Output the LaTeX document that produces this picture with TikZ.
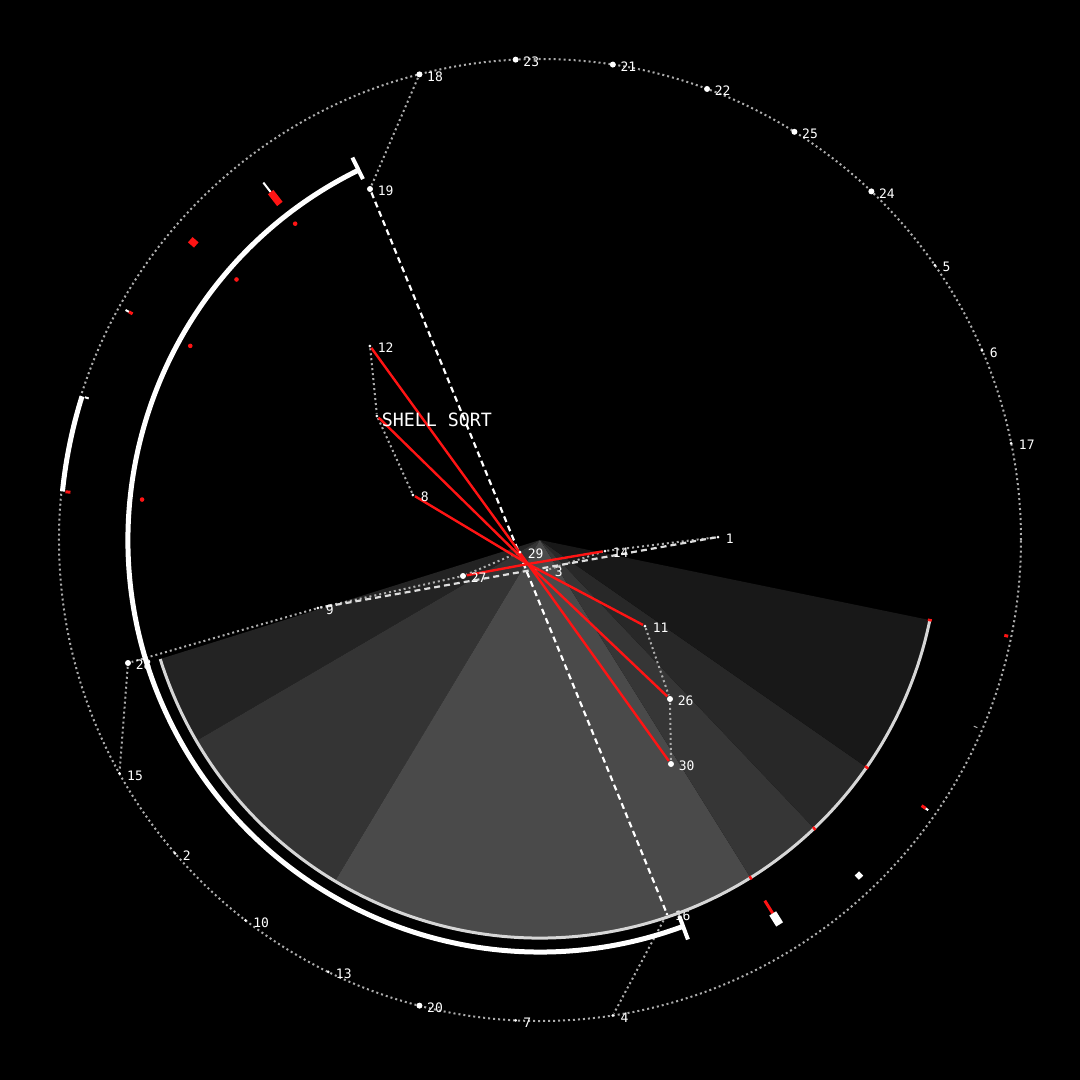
\documentclass[tikz,border=0pt]{standalone}
\usepackage{fontspec}
\setmonofont{DejaVu Sans Mono}
\usetikzlibrary{backgrounds}
\definecolor{cred}{HTML}{FF1414}
\definecolor{ctrail}{HTML}{ADADAD}
\definecolor{carc}{HTML}{D6D6D6}
\definecolor{cgap}{HTML}{DDDDDD}
\definecolor{fanA}{HTML}{232323}
\definecolor{fanB}{HTML}{343434}
\definecolor{fanC}{HTML}{4A4A4A}
\definecolor{fanD}{HTML}{363636}
\definecolor{fanE}{HTML}{282828}
\definecolor{fanF}{HTML}{181818}
\tikzset{
  every picture/.style={line width=1.6pt},
  dot/.style={circle, fill=white, inner sep=0pt, minimum size=6pt},
  sdot/.style={dot, minimum size=3pt},
  lbl/.style={text=white, font=\ttfamily\fontsize{13}{15}\selectfont, anchor=west, inner sep=0pt},
  title/.style={text=white, font=\ttfamily\fontsize{18.3}{21}\selectfont, anchor=west, inner sep=0pt},
  trail/.style={draw=ctrail, line width=2pt, dash pattern=on 2pt off 3pt},
  gapline/.style={draw=white, line width=2.2pt, dash pattern=on 6pt off 4pt},
  swapline/.style={draw=cred, line width=2.4pt},
}

\begin{document}
\begin{tikzpicture}[x=1pt, y=1pt]
  \newcommand{\slotmark}[5]{% slot, inner r, outer r, colour, width
    \draw[#4, line width=#5] ({#1*360/31}:#2) -- ({#1*360/31}:#3);}
  \useasboundingbox (-540,-540) rectangle (540,540);
  % values sitting on the outer ring (slot/value/size)
  \foreach \k/\v/\s in {1/17/sdot, 2/6/sdot, 3/5/sdot, 4/24/dot, 5/25/dot, 6/22/dot, 7/21/dot, 8/23/dot, 9/18/dot,
                        18/15/sdot, 19/2/sdot, 20/10/sdot, 21/13/sdot, 22/20/dot, 23/7/sdot, 24/4/sdot} {
    \node[\s] (p\v) at ({\k*360/31}:481) {};
    \node[lbl] (l\v) at ([shift={(7,-2)}]p\v.center) {\v};
  }
  % values inside
  \foreach \v/\x/\y/\s in {19/-170/351/dot, 12/-170/194/sdot, 8/-127/45/sdot, 29/-20/-12/sdot, 14/65/-11/sdot,
                           3/7/-30/sdot, 27/-77/-36/dot, 9/-222/-68/sdot, 1/178/3/sdot, 11/105/-86/sdot,
                           26/130/-159/dot, 30/131/-224/dot, 16/127/-374/sdot, 28/-412/-123/dot} {
    \node[\s] (p\v) at (\x,\y) {};
    \node[lbl] (l\v) at ([shift={(7,-2)}]p\v.center) {\v};
  }
  \node[sdot] (ps) at (-163,124) {};
  \node[title] (ttl) at (-159,120) {SHELL SORT};
  \coordinate (hub) at (-12,-24);

  \begin{pgfonlayer}{background}
    \fill[black] (-540,-540) rectangle (540,540);
    \foreach \a/\b/\c in {197.4/210.3/fanA, 210.3/239/fanB, 239/301.94/fanC,
                          301.94/313.55/fanD, 313.55/325.16/fanE, 325.16/348.39/fanF} {
      \fill[\c] (0,0) -- (\a:398) arc[start angle=\a, end angle=\b, radius=398] -- cycle;
    }
    \draw[trail] (0,0) circle[radius=481];
    \draw[trail] (p18) -- (p19);
    \draw[trail] (p12) -- (ps) -- (p8);
    \draw[trail] (p29) -- (p27) -- (p9) -- (p28) -- (p15);
    \draw[trail] (p3) -- (p14) -- (p1);
    \draw[trail] (p11) -- (p26) -- (p30);
    \draw[trail] (p16) -- (p4);
    \draw[gapline] (p19) -- (p16);
    \draw[gapline, draw=cgap] (p1) -- (p9);
    \foreach \v in {12, s, 8, 14, 27, 11, 26, 30} {
      \draw[swapline] (hub) -- (p\v);
    }
  \end{pgfonlayer}

  % arcs
  \draw[carc, line width=3pt] (197.4:398) arc[start angle=197.4, end angle=348.39, radius=398];
  \draw[white, line width=5pt] (116.13:412) arc[start angle=116.13, end angle=290.32, radius=412];
  \slotmark{10}{402}{426}{white}{4pt}
  \slotmark{25}{401}{426}{white}{4pt}
  \draw[white, line width=5pt] (162.58:480) arc[start angle=162.58, end angle=174.19, radius=480];
  % marks per slot
  \foreach \k in {11,12,13,15} {
    \fill[cred] ({\k*360/31}:400) circle[radius=2.3];
  }
  \foreach \k in {26,27,28,30} {
    \slotmark{\k}{396}{400}{cred}{2.5pt}
  }
  \slotmark{11}{440}{452}{white}{2pt}
  \slotmark{11}{425}{440}{cred}{7pt}
  \slotmark{12}{453}{461}{cred}{7pt}
  \slotmark{13}{470}{474}{white}{2pt}
  \slotmark{13}{466}{470}{cred}{3pt}
  \slotmark{14}{473}{477}{white}{2pt}
  \slotmark{15}{472}{477}{cred}{3pt}
  \slotmark{26}{425}{440}{cred}{3pt}
  \slotmark{26}{440}{453}{white}{8pt}
  \slotmark{27}{460}{466}{white}{6pt}
  \slotmark{28}{465}{470}{cred}{3pt}
  \slotmark{28}{470}{473}{white}{2pt}
  \slotmark{29}{472}{476}{ctrail}{1pt}
  \slotmark{30}{474}{478}{cred}{3pt}
\end{tikzpicture}
\end{document}
